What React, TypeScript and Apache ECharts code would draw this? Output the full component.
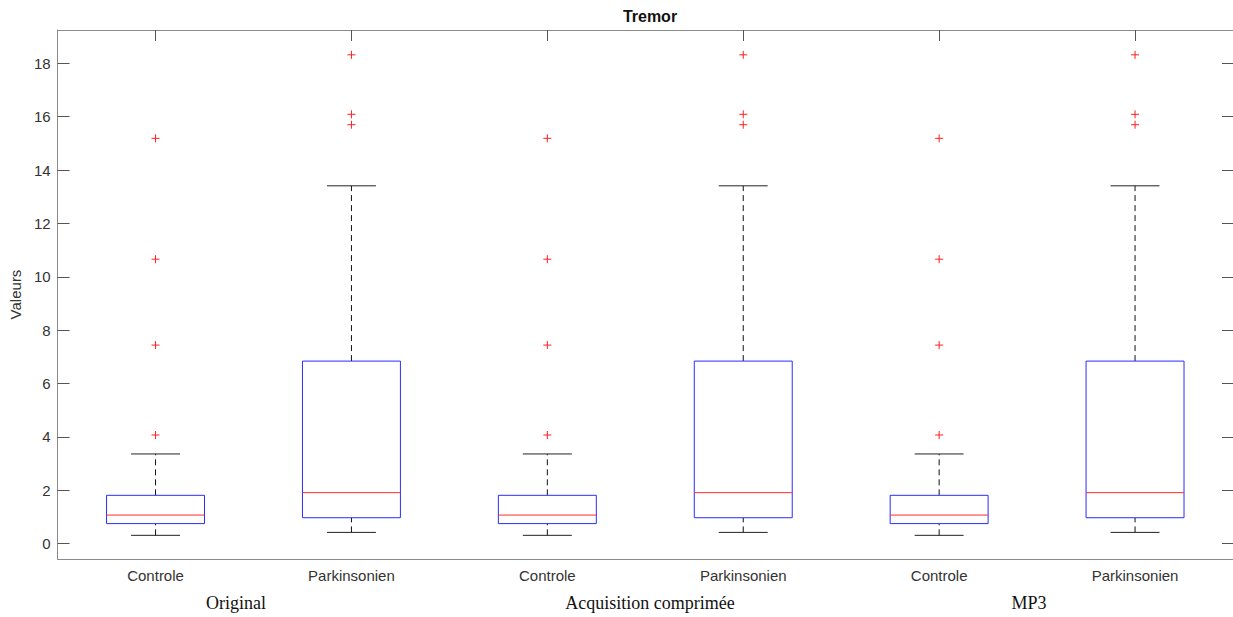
import React, { useEffect, useRef } from "react";
import * as echarts from "echarts";

// Box statistics per group: [lower whisker, Q1, median, Q3, upper whisker]
const categories = ["Controle", "Parkinsonien", "Controle", "Parkinsonien", "Controle", "Parkinsonien"];
const controleStats = [0.31, 0.75, 1.07, 1.81, 3.36];
const parkinsonienStats = [0.42, 0.97, 1.91, 6.84, 13.41];
const controleOutliers = [4.07, 7.44, 10.66, 15.19];
const parkinsonienOutliers = [15.7, 16.09, 18.32];
const groupLabels = ["Original", "Acquisition comprimée", "MP3"];
const yTicks = [0, 2, 4, 6, 8, 10, 12, 14, 16, 18];

const Y_MIN = -0.577;
const Y_MAX = 19.25;

export default function App() {
  const ref = useRef<HTMLDivElement>(null);

  useEffect(() => {
    document.body.style.margin = "0";
    if (!ref.current) return;
    const chart = echarts.init(ref.current, null, { renderer: "svg" });

    const boxData = categories.map((c, i) => [i, ...(i % 2 === 0 ? controleStats : parkinsonienStats)]);
    const outlierData: number[][] = [];
    categories.forEach((c, i) => {
      const list = i % 2 === 0 ? controleOutliers : parkinsonienOutliers;
      list.forEach((v) => outlierData.push([i, v]));
    });

    const axisColor = "#8a8a8a";
    const tickColor = "#555";
    const labelFont = { fontFamily: "Liberation Sans, Arial, sans-serif", fontSize: 15, color: "#333" };

    const renderBox = (params: any, api: any) => {
      const idx = api.value(0);
      const lo = api.coord([idx, api.value(1)]);
      const q1 = api.coord([idx, api.value(2)]);
      const med = api.coord([idx, api.value(3)]);
      const q3 = api.coord([idx, api.value(4)]);
      const hi = api.coord([idx, api.value(5)]);
      const band = api.size([1, 0])[0];
      const x = lo[0];
      const hw = band * 0.25;
      const cw = band * 0.125;
      const dash = { stroke: "#111", lineWidth: 1, lineDash: [6, 4] };
      const solid = { stroke: "#222", lineWidth: 1 };
      return {
        type: "group",
        children: [
          { type: "line", shape: { x1: x, y1: q3[1], x2: x, y2: hi[1] }, style: dash },
          { type: "line", shape: { x1: x, y1: lo[1], x2: x, y2: q1[1] }, style: dash },
          { type: "line", shape: { x1: x - cw, y1: hi[1], x2: x + cw, y2: hi[1] }, style: solid },
          { type: "line", shape: { x1: x - cw, y1: lo[1], x2: x + cw, y2: lo[1] }, style: solid },
          {
            type: "rect",
            shape: { x: x - hw, y: q3[1], width: hw * 2, height: q1[1] - q3[1] },
            style: { fill: "#ffffff", stroke: "#2b2bff", lineWidth: 1 },
          },
          { type: "line", shape: { x1: x - hw, y1: med[1], x2: x + hw, y2: med[1] }, style: { stroke: "#ff2a2a", lineWidth: 1 } },
        ],
      };
    };

    chart.setOption({
      animation: false,
      backgroundColor: "#ffffff",
      title: {
        text: "Tremor",
        left: 645,
        top: 3,
        textAlign: "center",
        textStyle: { fontFamily: "Liberation Sans, Arial, sans-serif", fontSize: 16, fontWeight: "bold", color: "#111" },
      },
      grid: { left: 57, right: 0, top: 30, bottom: 58, containLabel: false },
      xAxis: [
        {
          type: "category",
          data: categories,
          position: "bottom",
          axisLine: { onZero: false, lineStyle: { color: axisColor, width: 1 } },
          axisTick: { inside: true, alignWithLabel: true, length: 10, lineStyle: { color: tickColor } },
          axisLabel: { ...labelFont, margin: 9 },
          splitLine: { show: false },
        },
        {
          type: "category",
          data: categories,
          position: "top",
          axisLine: { show: true, onZero: false, lineStyle: { color: axisColor, width: 1 } },
          axisTick: { show: true, inside: true, alignWithLabel: true, length: 11, lineStyle: { color: tickColor } },
          axisLabel: { show: false },
          splitLine: { show: false },
        },
      ],
      yAxis: [
        {
          type: "value",
          min: Y_MIN,
          max: Y_MAX,
          position: "left",
          name: "Valeurs",
          nameLocation: "middle",
          nameGap: 33,
          nameRotate: 90,
          nameTextStyle: { fontFamily: "Liberation Sans, Arial, sans-serif", fontSize: 15, color: "#333" },
          axisLine: { show: true, onZero: false, lineStyle: { color: axisColor, width: 1 } },
          axisTick: { show: true, inside: true, length: 12, customValues: yTicks, lineStyle: { color: tickColor } },
          axisLabel: { ...labelFont, margin: 7, customValues: yTicks },
          splitLine: { show: false },
        },
        {
          type: "value",
          min: Y_MIN,
          max: Y_MAX,
          position: "right",
          axisLine: { show: true, onZero: false, lineStyle: { color: axisColor, width: 1 } },
          axisTick: { show: true, inside: true, length: 11, customValues: yTicks, lineStyle: { color: tickColor } },
          axisLabel: { show: false },
          splitLine: { show: false },
        },
      ],
      series: [
        {
          type: "custom",
          xAxisIndex: 0,
          yAxisIndex: 0,
          renderItem: renderBox,
          data: boxData,
          encode: { x: 0, y: [1, 2, 3, 4, 5] },
          clip: false,
        },
        {
          type: "scatter",
          xAxisIndex: 0,
          yAxisIndex: 0,
          data: outlierData,
          symbol: "path://M0,5 L10,5 M5,0 L5,10",
          symbolSize: 8,
          itemStyle: { color: "none", borderColor: "#ff2020", borderWidth: 1, opacity: 1 },
        },
        {
          // binds the top/right frame axes so they are laid out
          type: "scatter",
          xAxisIndex: 1,
          yAxisIndex: 1,
          data: outlierData,
          symbolSize: 0,
          silent: true,
          itemStyle: { opacity: 0 },
        },
      ],
      graphic: groupLabels.map((t, i) => ({
        type: "text",
        x: [236, 650, 1029][i],
        y: 603,
        style: {
          text: t,
          fontFamily: "Liberation Serif, Times New Roman, serif",
          fontSize: 18,
          fill: "#111",
          textAlign: "center",
          textVerticalAlign: "middle",
        },
      })),
    });

    return () => chart.dispose();
  }, []);

  return <div ref={ref} style={{ width: 1233, height: 617 }} />;
}
